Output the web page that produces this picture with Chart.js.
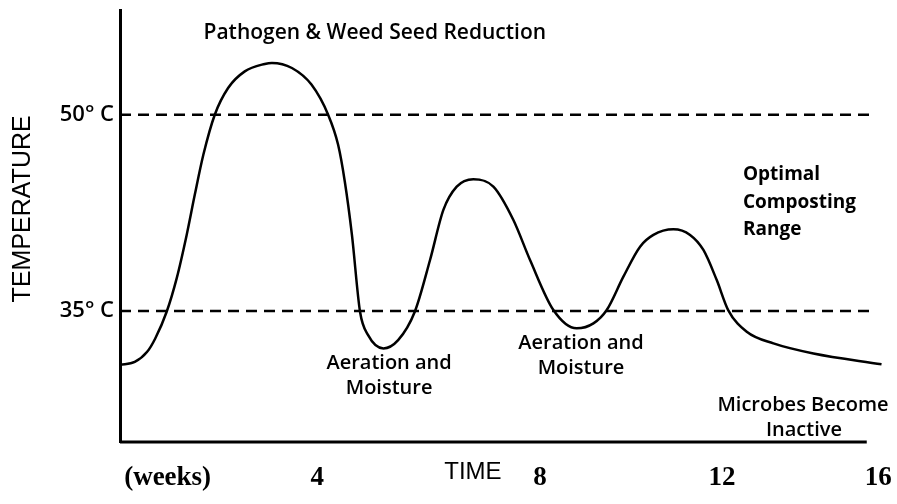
<!DOCTYPE html>
<html lang="en">
<head>
<meta charset="UTF-8">
<title>Composting Temperature Curve</title>
<script src="https://cdn.jsdelivr.net/npm/chart.js"></script>
<style>
    html, body { margin: 0; padding: 0; background: #fff; }
    #wrap { width: 897px; height: 504px; }
</style>
</head>
<body>
<div id="wrap"><canvas id="tempChart"></canvas></div>
<script>
// curve: time in weeks, temperature in deg C
const weeks = [0, 0.31, 0.57, 0.74, 0.98, 1.19, 1.40, 1.57, 1.75, 1.99, 2.27, 2.62, 3.04, 3.19, 3.61, 4.02,
               4.37, 4.58, 4.72, 4.87, 5.04, 5.21, 5.53, 5.84, 6.19, 6.51, 6.79, 7.07, 7.42, 7.84, 8.26,
               8.61, 9.10, 9.59, 9.94, 10.22, 10.57, 10.92, 11.20, 11.62, 11.97, 12.25, 12.53, 12.77, 13.16,
               13.72, 14.56, 15.99];
const temps = [30.9, 31.12, 31.89, 32.91, 34.95, 37.5, 40.82, 43.88, 46.94, 50.0, 52.04, 53.31, 53.88, 53.96, 53.57, 52.3,
               50.0, 47.7, 44.9, 40.82, 34.95, 33.16, 32.15, 32.78, 34.95, 38.9, 42.73, 44.51, 45.08, 44.51, 41.96,
               38.9, 35.08, 33.68, 34.06, 35.08, 37.63, 39.92, 40.82, 41.25, 40.82, 39.67, 37.37, 35.08, 33.42,
               32.53, 31.76, 30.94];

// bottom tick labels (placed where the drawing puts them)
const tickWeeks = [1.0, 4.14, 8.82, 12.64, 15.92];
const tickLabels = ['(weeks)', '4', '8', '12', '16'];

// temperature marks and the dashed range lines
const tempTicks = [35, 50];
const tempTickLabels = ['35° C', '50° C'];
const rangeEnd = 15.75;
const axisEnd = 15.68;
const tempFloor = 25;

const notes = [
    { text: 'Pathogen & Weed Seed Reduction', x: 5.35, y: 56.28, align: 'center', size: 21 },
    { text: 'Optimal', x: 13.08, y: 45.41, align: 'left', weight: '700', size: 19 },
    { text: 'Composting', x: 13.08, y: 43.27, align: 'left', weight: '700', size: 19 },
    { text: 'Range', x: 13.08, y: 41.20, align: 'left', weight: '700', size: 19 },
    { text: 'Aeration and', x: 5.65, y: 31.02, align: 'center' },
    { text: 'Moisture', x: 5.65, y: 29.11, align: 'center' },
    { text: 'Aeration and', x: 9.68, y: 32.55, align: 'center' },
    { text: 'Moisture', x: 9.68, y: 30.64, align: 'center' },
    { text: 'Microbes Become', x: 14.34, y: 27.81, align: 'center' },
    { text: 'Inactive', x: 14.36, y: 25.89, align: 'center' },
    { text: 'TIME', x: 7.41, y: 22.68, align: 'center', family: 'Liberation Sans', size: 24, weight: '400' },
    { text: 'TEMPERATURE', x: -2.04, y: 42.81, align: 'center', family: 'Liberation Sans', size: 25, weight: '400', rotate: true }
];

const notesPlugin = {
    id: 'notes',
    afterDraw(chart) {
        const ctx = chart.ctx;
        const xs = chart.scales.x, ys = chart.scales.y;
        notes.forEach(n => {
            ctx.save();
            ctx.fillStyle = '#000';
            ctx.font = (n.weight || '600') + ' ' + (n.size || 20) + 'px "' + (n.family || 'Open Sans') + '"';
            ctx.textAlign = n.align;
            ctx.textBaseline = 'middle';
            ctx.translate(xs.getPixelForValue(n.x), ys.getPixelForValue(n.y));
            if (n.rotate) ctx.rotate(-Math.PI / 2);
            ctx.fillText(n.text, 0, 0);
            ctx.restore();
        });
    }
};

const line = (data, extra) => Object.assign({
    data: data, borderColor: '#000', borderWidth: 2.5, pointRadius: 0, fill: false
}, extra);

// ticks sit inside the axes here, so drop the edge padding Chart.js adds for them
const noEdgePad = s => { s.paddingLeft = 0; s.paddingRight = 0; s.paddingTop = 0; s.paddingBottom = 0; };

new Chart(document.getElementById('tempChart'), {
    type: 'line',
    data: {
        datasets: [
            line(weeks.map((w, i) => ({ x: w, y: temps[i] })), { cubicInterpolationMode: 'monotone' }),
            line([{ x: 0, y: tempTicks[1] }, { x: rangeEnd, y: tempTicks[1] }], { borderDash: [11, 7] }),
            line([{ x: 0, y: tempTicks[0] }, { x: rangeEnd, y: tempTicks[0] }], { borderDash: [11, 7] }),
            line([{ x: 0, y: tempFloor }, { x: axisEnd, y: tempFloor }], { borderWidth: 3, clip: false })
        ]
    },
    options: {
        responsive: true,
        maintainAspectRatio: false,
        animation: false,
        layout: { padding: { top: 10, right: 15, left: 0, bottom: 0 } },
        plugins: { legend: { display: false }, tooltip: { enabled: false } },
        scales: {
            x: {
                type: 'linear', min: 0, max: 16,
                grid: { display: false, drawTicks: false },
                border: { display: false },
                afterBuildTicks: s => { s.ticks = tickWeeks.map(v => ({ value: v })); },
                ticks: {
                    autoSkip: false, maxRotation: 0, padding: 20, color: '#000',
                    font: { family: 'Liberation Serif', size: 27, weight: 'bold' },
                    callback: (v, i) => tickLabels[i]
                },
                afterFit: s => { s.height = 62; noEdgePad(s); }
            },
            y: {
                type: 'linear', min: tempFloor, max: 58,
                grid: { display: false, drawTicks: false },
                border: { display: true, color: '#000', width: 3 },
                afterBuildTicks: s => { s.ticks = tempTicks.map(v => ({ value: v })); },
                ticks: {
                    padding: 6, color: '#000',
                    font: { family: 'Open Sans', size: 22, weight: '600' },
                    callback: v => tempTickLabels[tempTicks.indexOf(v)]
                },
                afterFit: s => { s.width = 120; noEdgePad(s); }
            }
        }
    },
    plugins: [notesPlugin]
});
</script>
</body>
</html>
